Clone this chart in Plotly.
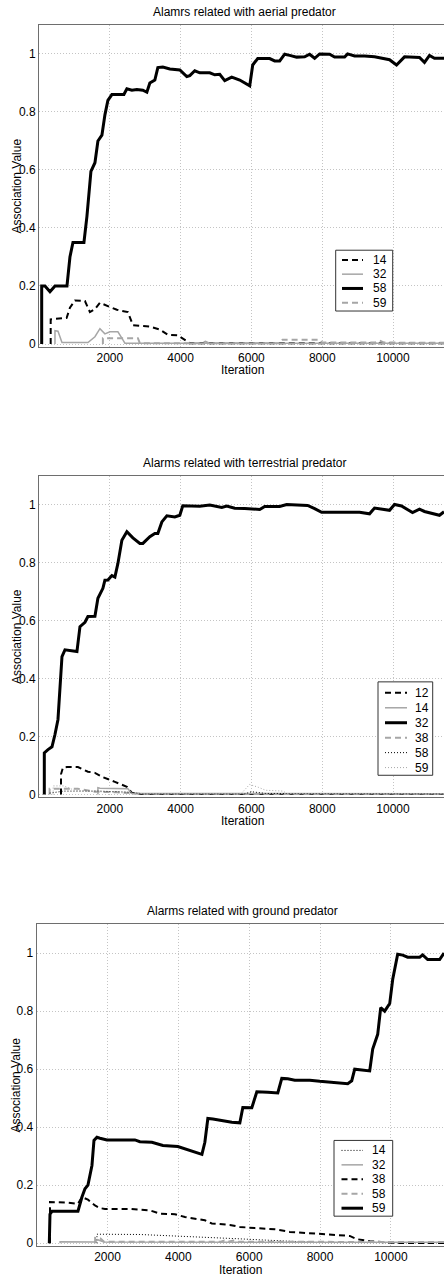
import plotly.graph_objects as go

W, H = 444, 1279
FONT = "Liberation Sans, Arial, Helvetica, sans-serif"
GRAY = "#a6a6a6"

# ---------------- data (iteration, association value) ----------------
titles = ["Alamrs related with aerial predator",
          "Alarms related with terrestrial predator",
          "Alarms related with ground predator"]
xticks = [2000, 4000, 6000, 8000, 10000]
xticktext = ["2000", "4000", "6000", "8000", "10000"]
yticks = [0, 0.2, 0.4, 0.6, 0.8, 1]
yticktext = ["0", "0.2", "0.4", "0.6", "0.8", "1"]

# Panel 1 (aerial)
p1_14 = [(330, 0), (330, 0.085), (781, 0.09), (874, 0.125), (1016, 0.15), (1298, 0.148),
         (1439, 0.11), (1580, 0.12), (1721, 0.142), (2003, 0.127), (2200, 0.118),
         (2511, 0.11), (2652, 0.065), (3131, 0.06), (3413, 0.05), (3639, 0.032),
         (3921, 0.03), (4260, 0.003), (11440, 0.003)]
p1_32 = [(451, 0), (451, 0.046), (536, 0.044), (649, 0.005), (1382, 0.005), (1439, 0.01),
         (1580, 0.025), (1721, 0.053), (1862, 0.035), (2003, 0.042), (2229, 0.042),
         (2341, 0.02), (2426, 0.003), (11440, 0.003)]
p1_58 = [(76, 0), (76, 0.20), (169, 0.20), (310, 0.18), (451, 0.20), (790, 0.20), (874, 0.30),
         (959, 0.35), (1269, 0.35), (1354, 0.44), (1467, 0.595), (1580, 0.625), (1664, 0.70),
         (1777, 0.72), (1862, 0.79), (1946, 0.84), (2059, 0.86), (2398, 0.86), (2482, 0.88),
         (2624, 0.875), (2764, 0.877), (2934, 0.875), (3047, 0.868), (3131, 0.90),
         (3272, 0.91), (3357, 0.953), (3498, 0.955), (3696, 0.948), (3978, 0.945),
         (4175, 0.922), (4260, 0.925), (4401, 0.942), (4542, 0.935), (4824, 0.935),
         (4965, 0.928), (5106, 0.93), (5247, 0.908), (5444, 0.92), (5670, 0.91),
         (5896, 0.893), (5952, 0.89), (6037, 0.962), (6178, 0.984), (6516, 0.984),
         (6657, 0.976), (6799, 0.976), (6940, 0.999), (7081, 0.995), (7278, 0.989),
         (7504, 0.99), (7645, 0.999), (7786, 0.985), (7927, 1.0), (8209, 0.999),
         (8350, 0.989), (8632, 0.989), (8717, 1.0), (8914, 0.993), (9196, 0.993),
         (9478, 0.99), (9760, 0.985), (9902, 0.98), (10099, 0.962), (10325, 0.99),
         (10748, 0.988), (10889, 0.971), (11030, 0.995), (11171, 0.985), (11440, 0.985)]
p1_59 = [(1805, 0), (1805, 0.02), (2793, 0.02), (2850, 0.003), (4600, 0.003), (4700, 0.008),
         (4800, 0.003), (6800, 0.003), (6883, 0.015), (7927, 0.015), (8000, 0.005),
         (9500, 0.005), (9620, 0.012), (9750, 0.005), (11440, 0.004)]

# Panel 2 (terrestrial)
p2_12 = [(621, 0), (621, 0.07), (677, 0.093), (790, 0.095), (1100, 0.095), (1382, 0.079),
         (1580, 0.075), (1805, 0.06), (2144, 0.044), (2341, 0.035), (2482, 0.027),
         (2624, 0.006), (2849, 0.002), (11440, 0.002)]
p2_14 = [(1664, 0), (1664, 0.024), (1721, 0.022), (2511, 0.02), (2624, 0.004), (11440, 0.003)]
p2_32 = [(150, 0), (150, 0.144), (254, 0.155), (367, 0.165), (451, 0.207), (536, 0.259),
         (649, 0.476), (733, 0.499), (1072, 0.493), (1157, 0.579), (1298, 0.594),
         (1382, 0.614), (1580, 0.615), (1664, 0.677), (1805, 0.711), (1862, 0.739),
         (1946, 0.74), (2059, 0.755), (2144, 0.75), (2229, 0.797), (2341, 0.877),
         (2482, 0.906), (2652, 0.885), (2849, 0.866), (2934, 0.866), (3131, 0.889),
         (3272, 0.90), (3357, 0.90), (3470, 0.94), (3611, 0.961), (3837, 0.957),
         (3978, 0.963), (4062, 0.996), (4260, 0.995), (4542, 0.994), (4824, 0.998),
         (5050, 0.994), (5162, 0.99), (5303, 0.995), (5529, 0.987), (5811, 0.986),
         (5952, 0.985), (6234, 0.983), (6375, 0.993), (6799, 0.993), (6996, 1.0),
         (7363, 0.998), (7588, 0.997), (7786, 0.986), (7983, 0.973), (9055, 0.973),
         (9337, 0.968), (9478, 0.988), (9760, 0.981), (9902, 0.98), (10043, 1.0),
         (10240, 0.995), (10551, 0.972), (10748, 0.984), (10889, 0.976), (11087, 0.969),
         (11312, 0.963), (11440, 0.975)]
p2_38 = [(300, 0), (300, 0.02), (1100, 0.02), (1580, 0.01), (2200, 0.008), (2700, 0.004),
         (3000, 0.002), (11440, 0.002)]
p2_58 = [(300, 0.005), (700, 0.012), (1700, 0.012), (2600, 0.008), (2900, 0.002),
         (5800, 0.002), (6000, 0.01), (6400, 0.004), (11440, 0.002)]
p2_59 = [(400, 0), (400, 0.03), (700, 0.03), (1000, 0.015), (1700, 0.01), (2700, 0.005),
         (3000, 0.002), (5700, 0.002), (5950, 0.035), (6200, 0.025), (6400, 0.015),
         (6900, 0.012), (7000, 0.003), (11440, 0.002)]

# Panel 3 (ground)
p3_14 = [(1701, 0), (1701, 0.031), (2914, 0.03), (4043, 0.025), (4748, 0.02), (5735, 0.015),
         (6581, 0.01), (7287, 0.005), (7992, 0.002), (11500, 0.002)]
p3_32 = [(660, 0), (660, 0.005), (1650, 0.004), (1720, 0.012), (1900, 0.004), (11500, 0.003)]
p3_38 = [(375, 0), (375, 0.142), (855, 0.14), (1165, 0.136), (1278, 0.159), (1447, 0.15),
         (1645, 0.13), (1786, 0.121), (1927, 0.118), (2632, 0.118), (3196, 0.113),
         (3478, 0.102), (3902, 0.1), (4184, 0.09), (4748, 0.079), (4945, 0.068),
         (5453, 0.063), (5735, 0.056), (6158, 0.052), (6722, 0.048), (7146, 0.039),
         (7569, 0.035), (7992, 0.031), (8415, 0.027), (8838, 0.025), (9036, 0.014),
         (9402, 0.007), (9825, 0.003), (10249, 0.001), (11500, 0.001)]
p3_58 = [(1650, 0), (1650, 0.018), (1800, 0.016), (1900, 0.005), (5200, 0.005), (5300, 0.009),
         (5400, 0.005), (5550, 0.009), (5700, 0.005), (11500, 0.004)]
p3_59 = [(356, 0), (356, 0.07), (375, 0.10), (432, 0.11), (1165, 0.11), (1278, 0.159),
         (1363, 0.188), (1447, 0.20), (1560, 0.268), (1617, 0.354), (1701, 0.365),
         (1786, 0.362), (1983, 0.356), (2773, 0.356), (2914, 0.35), (3253, 0.348),
         (3563, 0.337), (3986, 0.333), (4184, 0.325), (4409, 0.318), (4665, 0.306),
         (4748, 0.348), (4832, 0.43), (4974, 0.428), (5171, 0.423), (5368, 0.42),
         (5509, 0.417), (5735, 0.415), (5820, 0.468), (6074, 0.467), (6215, 0.522),
         (6525, 0.52), (6807, 0.518), (6920, 0.568), (7089, 0.567), (7287, 0.562),
         (7710, 0.562), (7992, 0.558), (8330, 0.555), (8415, 0.552), (8782, 0.55),
         (8895, 0.56), (8979, 0.60), (9120, 0.598), (9402, 0.594), (9487, 0.669),
         (9628, 0.72), (9713, 0.812), (9825, 0.80), (9967, 0.826), (10052, 0.91),
         (10192, 0.996), (10333, 0.993), (10474, 0.986), (10813, 0.986), (10898, 0.994),
         (11039, 0.978), (11377, 0.978), (11500, 1.0)]

# ---------------- styles ----------------
DASH = "6px,4px"
DOT = "1px,2px"
STY = {
    "kdash": dict(color="black", width=2, dash=DASH),
    "gsolid": dict(color=GRAY, width=1.5, dash="solid"),
    "kthick": dict(color="black", width=3, dash="solid"),
    "gdash": dict(color=GRAY, width=2, dash=DASH),
    "kdot": dict(color="black", width=1, dash=DOT),
    "gdot": dict(color=GRAY, width=1, dash=DOT),
}

panels = [
    [("14", p1_14, "kdash"), ("32", p1_32, "gsolid"), ("58", p1_58, "kthick"), ("59", p1_59, "gdash")],
    [("12", p2_12, "kdash"), ("14", p2_14, "gsolid"), ("32", p2_32, "kthick"), ("38", p2_38, "gdash"),
     ("58", p2_58, "kdot"), ("59", p2_59, "gdot")],
    [("14", p3_14, "kdot"), ("32", p3_32, "gsolid"), ("38", p3_38, "kdash"), ("58", p3_58, "gdash"),
     ("59", p3_59, "kthick")],
]

# ---------------- layout geometry (pixels) ----------------
tops = [25, 477, 927]
plot_h = 323
lefts = [39, 39, 36.7]
xmax = [11440, 11440, 11500]
title_cx = [244.5, 244.5, 242.3]
legend_boxes = [  # x0, x1, y0, y1, first row y, row step, sample x0, sample x1, text x
    (335.7, 392.7, 251, 312, 260.7, 14.33, 342, 363, 371),
    (378, 432.7, 684, 777.7, 695, 15.0, 385, 407, 413),
    (334, 392.7, 1144, 1220, 1154, 14.5, 341.5, 363, 370),
]

def px(x):
    return x / W

def py(y):
    return 1 - y / H

fig = go.Figure()
shapes = []
annotations = []

for i, series in enumerate(panels):
    n = "" if i == 0 else str(i + 1)
    draw_order = [s for s in series if s[2] != "kthick"] + [s for s in series if s[2] == "kthick"]
    for name, pts, st in draw_order:
        fig.add_trace(go.Scatter(
            x=[p[0] for p in pts], y=[p[1] for p in pts], mode="lines", name=name,
            line=STY[st], xaxis="x" + n, yaxis="y" + n, showlegend=False,
            hoverinfo="x+y+name"))
    top = tops[i]
    bot = top + plot_h
    axis_common = dict(showgrid=True, griddash="1px,2px", gridcolor="#c4c4c4", gridwidth=1,
                       zeroline=False, showline=True, linecolor="#6e6e6e", linewidth=1,
                       ticks="", tickfont=dict(family=FONT, size=12, color="black"))
    fig.layout["xaxis" + n] = dict(axis_common, domain=[px(lefts[i]), 1], range=[0, xmax[i]],
                                    tickvals=xticks, ticktext=xticktext, mirror=True,
                                    anchor="y" + n)
    fig.layout["yaxis" + n] = dict(axis_common, domain=[py(bot), py(top)], range=[-0.01, 1.1],
                                    tickvals=yticks, ticktext=yticktext, mirror=False,
                                    anchor="x" + n)
    # title, x label, y label
    annotations.append(dict(text=titles[i], x=px(title_cx[i]), y=py(top - 13), xref="paper",
                            yref="paper", showarrow=False, xanchor="center", yanchor="middle",
                            font=dict(family=FONT, size=12, color="black")))
    annotations.append(dict(text="Iteration", x=px(title_cx[i] - 1.5), y=py(bot + 23.5),
                            xref="paper", yref="paper", showarrow=False, xanchor="center",
                            yanchor="middle", font=dict(family=FONT, size=12, color="black")))
    annotations.append(dict(text="Association Value", x=px(16.5), y=py((top + bot) / 2),
                            xref="paper", yref="paper", showarrow=False, textangle=-90,
                            xanchor="center", yanchor="middle",
                            font=dict(family=FONT, size=12, color="black")))
    # legend
    x0, x1, y0, y1, r0, step, sx0, sx1, tx = legend_boxes[i]
    shapes.append(dict(type="rect", xref="paper", yref="paper", x0=px(x0), x1=px(x1),
                       y0=py(y1), y1=py(y0), fillcolor="white",
                       line=dict(color="#333333", width=1), layer="above"))
    for k, (name, pts, st) in enumerate(series):
        yy = r0 + k * step
        s = STY[st]
        shapes.append(dict(type="line", xref="paper", yref="paper", x0=px(sx0), x1=px(sx1),
                           y0=py(yy), y1=py(yy), layer="above",
                           line=dict(color=s["color"], width=s["width"], dash=s["dash"])))
        annotations.append(dict(text=name, x=px(tx), y=py(yy), xref="paper", yref="paper",
                                showarrow=False, xanchor="left", yanchor="middle",
                                font=dict(family=FONT, size=12, color="black")))

fig.update_layout(width=W, height=H, margin=dict(l=0, r=0, t=0, b=0),
                  paper_bgcolor="white", plot_bgcolor="white", showlegend=False,
                  shapes=shapes, annotations=annotations,
                  font=dict(family=FONT, size=12, color="black"))

fig.write_html("out.html")
